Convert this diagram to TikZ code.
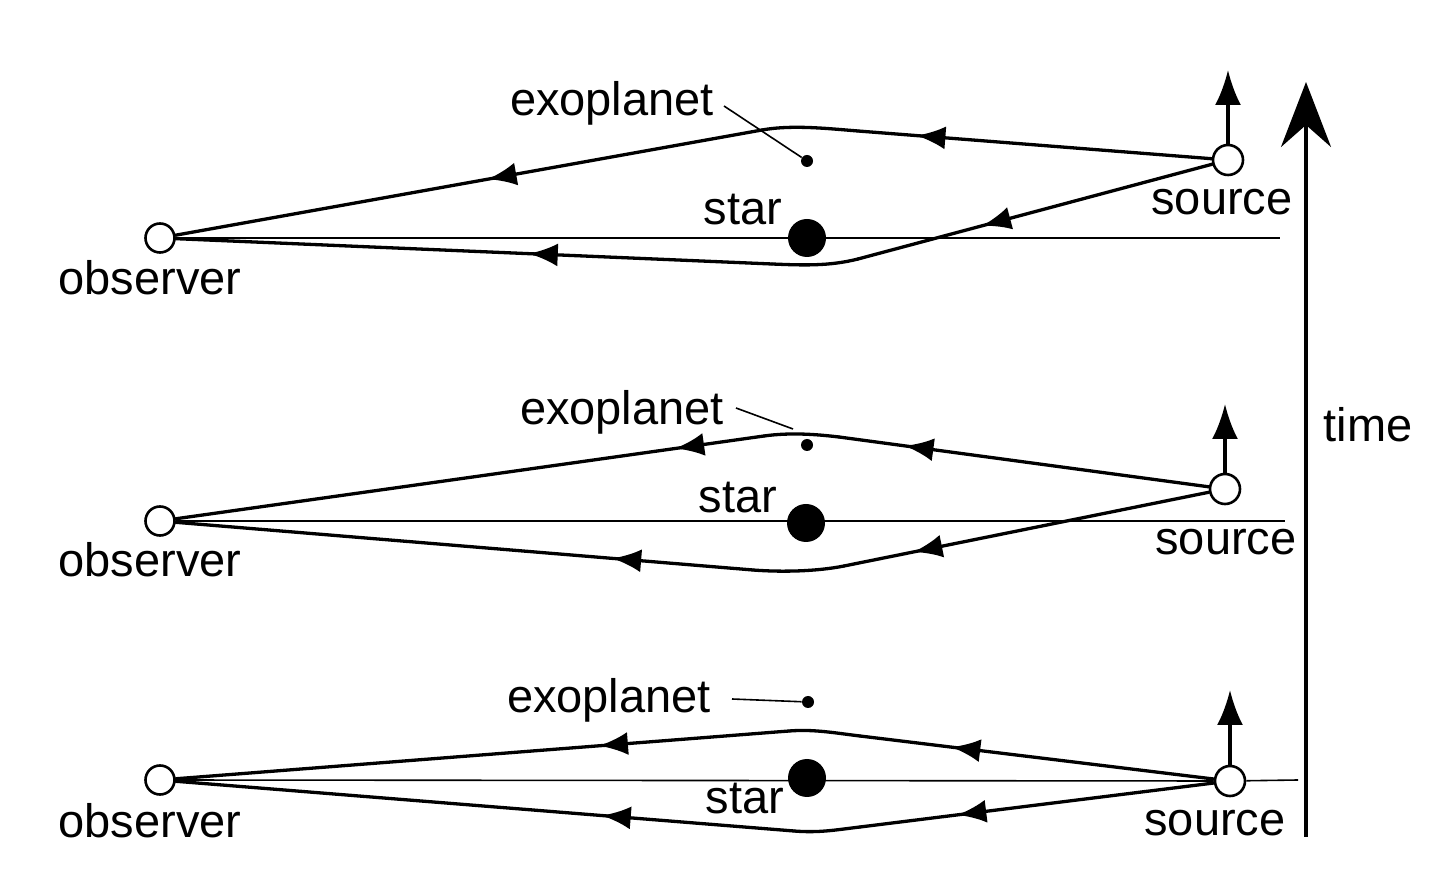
\documentclass[tikz,border=0pt]{standalone}
\usepackage{fontspec}
\setmainfont{Liberation Sans}
\usetikzlibrary{arrows.meta,decorations.markings}
\begin{document}
\begin{tikzpicture}[x=0.5pt,y=-0.5pt,
 lbl/.style={font=\fontsize{23.5}{28}\selectfont, anchor=base, inner sep=0pt},
 obsc/.style={circle,draw,fill=white,line width=1.3pt,minimum size=14.5pt,inner sep=0pt},
 srcc/.style={obsc,minimum size=15pt},
 starc/.style={circle,fill=black,minimum size=19pt,inner sep=0pt},
 planetc/.style={circle,fill=black,minimum size=6pt,inner sep=0pt},
 ray/.style={line width=1.65pt,line cap=round,line join=round},
 axisline/.style={line width=0.8pt},
 leader/.style={line width=0.8pt},
 rayarr/.style={postaction={decorate},decoration={markings,mark=at position #1 with {\arrow{Latex[length=14.5pt,width=11.5pt]}}}},
 uparr/.style={line width=1.6pt,-{Latex[length=17.5pt,width=13pt]}},
 timearr/.style={line width=1.6pt,-{Stealth[length=32.5pt,width=25pt,inset=11pt]}},
]
\useasboundingbox (0,0) rectangle (1436,892);

% ---------- top panel ----------
\node[obsc] (obsA) at (160,238) {};
\node[starc] (starA) at (807,238) {};
\node[planetc] (plA) at (807,161) {};
\node[srcc] (srcA) at (1228,160) {};
\coordinate (lineA) at (1280,238);
\coordinate (upA) at (1228,70);
\node[lbl] (tobsA) at (150,295) {observer};
\node[lbl] (tstarA) at (743,225) {star};
\node[lbl] (tsrcA) at (1222,215) {source};
\node[lbl] (tplA) at (612,116) {exoplanet};
\coordinate (ldA) at (724,106);
\draw[leader] (ldA) -- (plA);
\draw[axisline] (obsA) -- (lineA);
\draw[uparr] (srcA.north) -- (upA);
\coordinate (aA1) at (858,131);
\coordinate (aA2) at (762,130);
\coordinate (bA1) at (858,259);
\coordinate (bA2) at (772,264);
\draw[ray,rayarr=0.835] (srcA) -- (aA1);
\draw[ray] (aA1) .. controls (828,128.6) and (792,124.6) .. (aA2);
\draw[ray,rayarr=0.468] (aA2) -- (obsA);
\draw[ray,rayarr=0.65] (srcA) -- (bA1);
\draw[ray] (bA1) .. controls (829,266.4) and (802,265.2) .. (bA2);
\draw[ray,rayarr=0.408] (bA2) -- (obsA);

% ---------- middle panel ----------
\node[obsc] (obsB) at (160,521) {};
\node[starc] (starB) at (806,523) {};
\node[planetc] (plB) at (807,445) {};
\node[srcc] (srcB) at (1225,489) {};
\coordinate (lineB) at (1285,521);
\coordinate (upB) at (1225,404);
\node[lbl] (tobsB) at (150,577) {observer};
\node[lbl] (tstarB) at (738,513) {star};
\node[lbl] (tsrcB) at (1226,555) {source};
\node[lbl] (tplB) at (622,425) {exoplanet};
\coordinate (ldB1) at (736,408);
\coordinate (ldB2) at (793,429);
\draw[leader] (ldB1) -- (ldB2);
\draw[axisline] (obsB) -- (lineB);
\draw[uparr] (srcB.north) -- (upB);
\coordinate (aB1) at (839,437);
\coordinate (aB2) at (764,436);
\coordinate (bB1) at (844,566);
\coordinate (bB2) at (753,570);
\draw[ray,rayarr=0.823] (srcB) -- (aB1);
\draw[ray] (aB1) .. controls (814,434) and (789,432.5) .. (aB2);
\draw[ray,rayarr=0.151] (aB2) -- (obsB);
\draw[ray,rayarr=0.81] (srcB) -- (bB1);
\draw[ray] (bB1) .. controls (816.5,571.5) and (781,572.2) .. (bB2);
\draw[ray,rayarr=0.244] (bB2) -- (obsB);

% ---------- bottom panel ----------
\node[obsc] (obsC) at (160,780) {};
\node[starc] (starC) at (807,778) {};
\node[planetc] (plC) at (808,702) {};
\node[srcc] (srcC) at (1230,781) {};
\coordinate (lineC) at (1298,780);
\coordinate (upC) at (1230,690);
\node[lbl] (tobsC) at (150,837) {observer};
\node[lbl] (tstarC) at (745,813) {star};
\node[lbl] (tsrcC) at (1215,835) {source};
\node[lbl] (tplC) at (609,713) {exoplanet};
\coordinate (ldC) at (732,699);
\draw[leader] (ldC) -- (plC);
\draw[axisline] (obsC) -- (srcC);
\draw[axisline] (srcC) -- (lineC);
\draw[uparr] (srcC.north) -- (upC);
\coordinate (aC1) at (860,736);
\coordinate (aC2) at (789,731);
\coordinate (bC1) at (860,827);
\coordinate (bC2) at (794,831);
\draw[ray,rayarr=0.742] (srcC) -- (aC1);
\draw[ray] (aC1) .. controls (835,733) and (814,729) .. (aC2);
\draw[ray,rayarr=0.31] (aC2) -- (obsC);
\draw[ray,rayarr=0.725] (srcC) -- (bC1);
\draw[ray] (bC1) .. controls (835,830) and (819,833) .. (bC2);
\draw[ray,rayarr=0.311] (bC2) -- (obsC);

% ---------- time axis ----------
\coordinate (tbot) at (1306,837);
\coordinate (ttop) at (1306,82);
\draw[timearr] (tbot) -- (ttop);
\node[lbl] (ttime) at (1368,442) {time};
\end{tikzpicture}
\end{document}
